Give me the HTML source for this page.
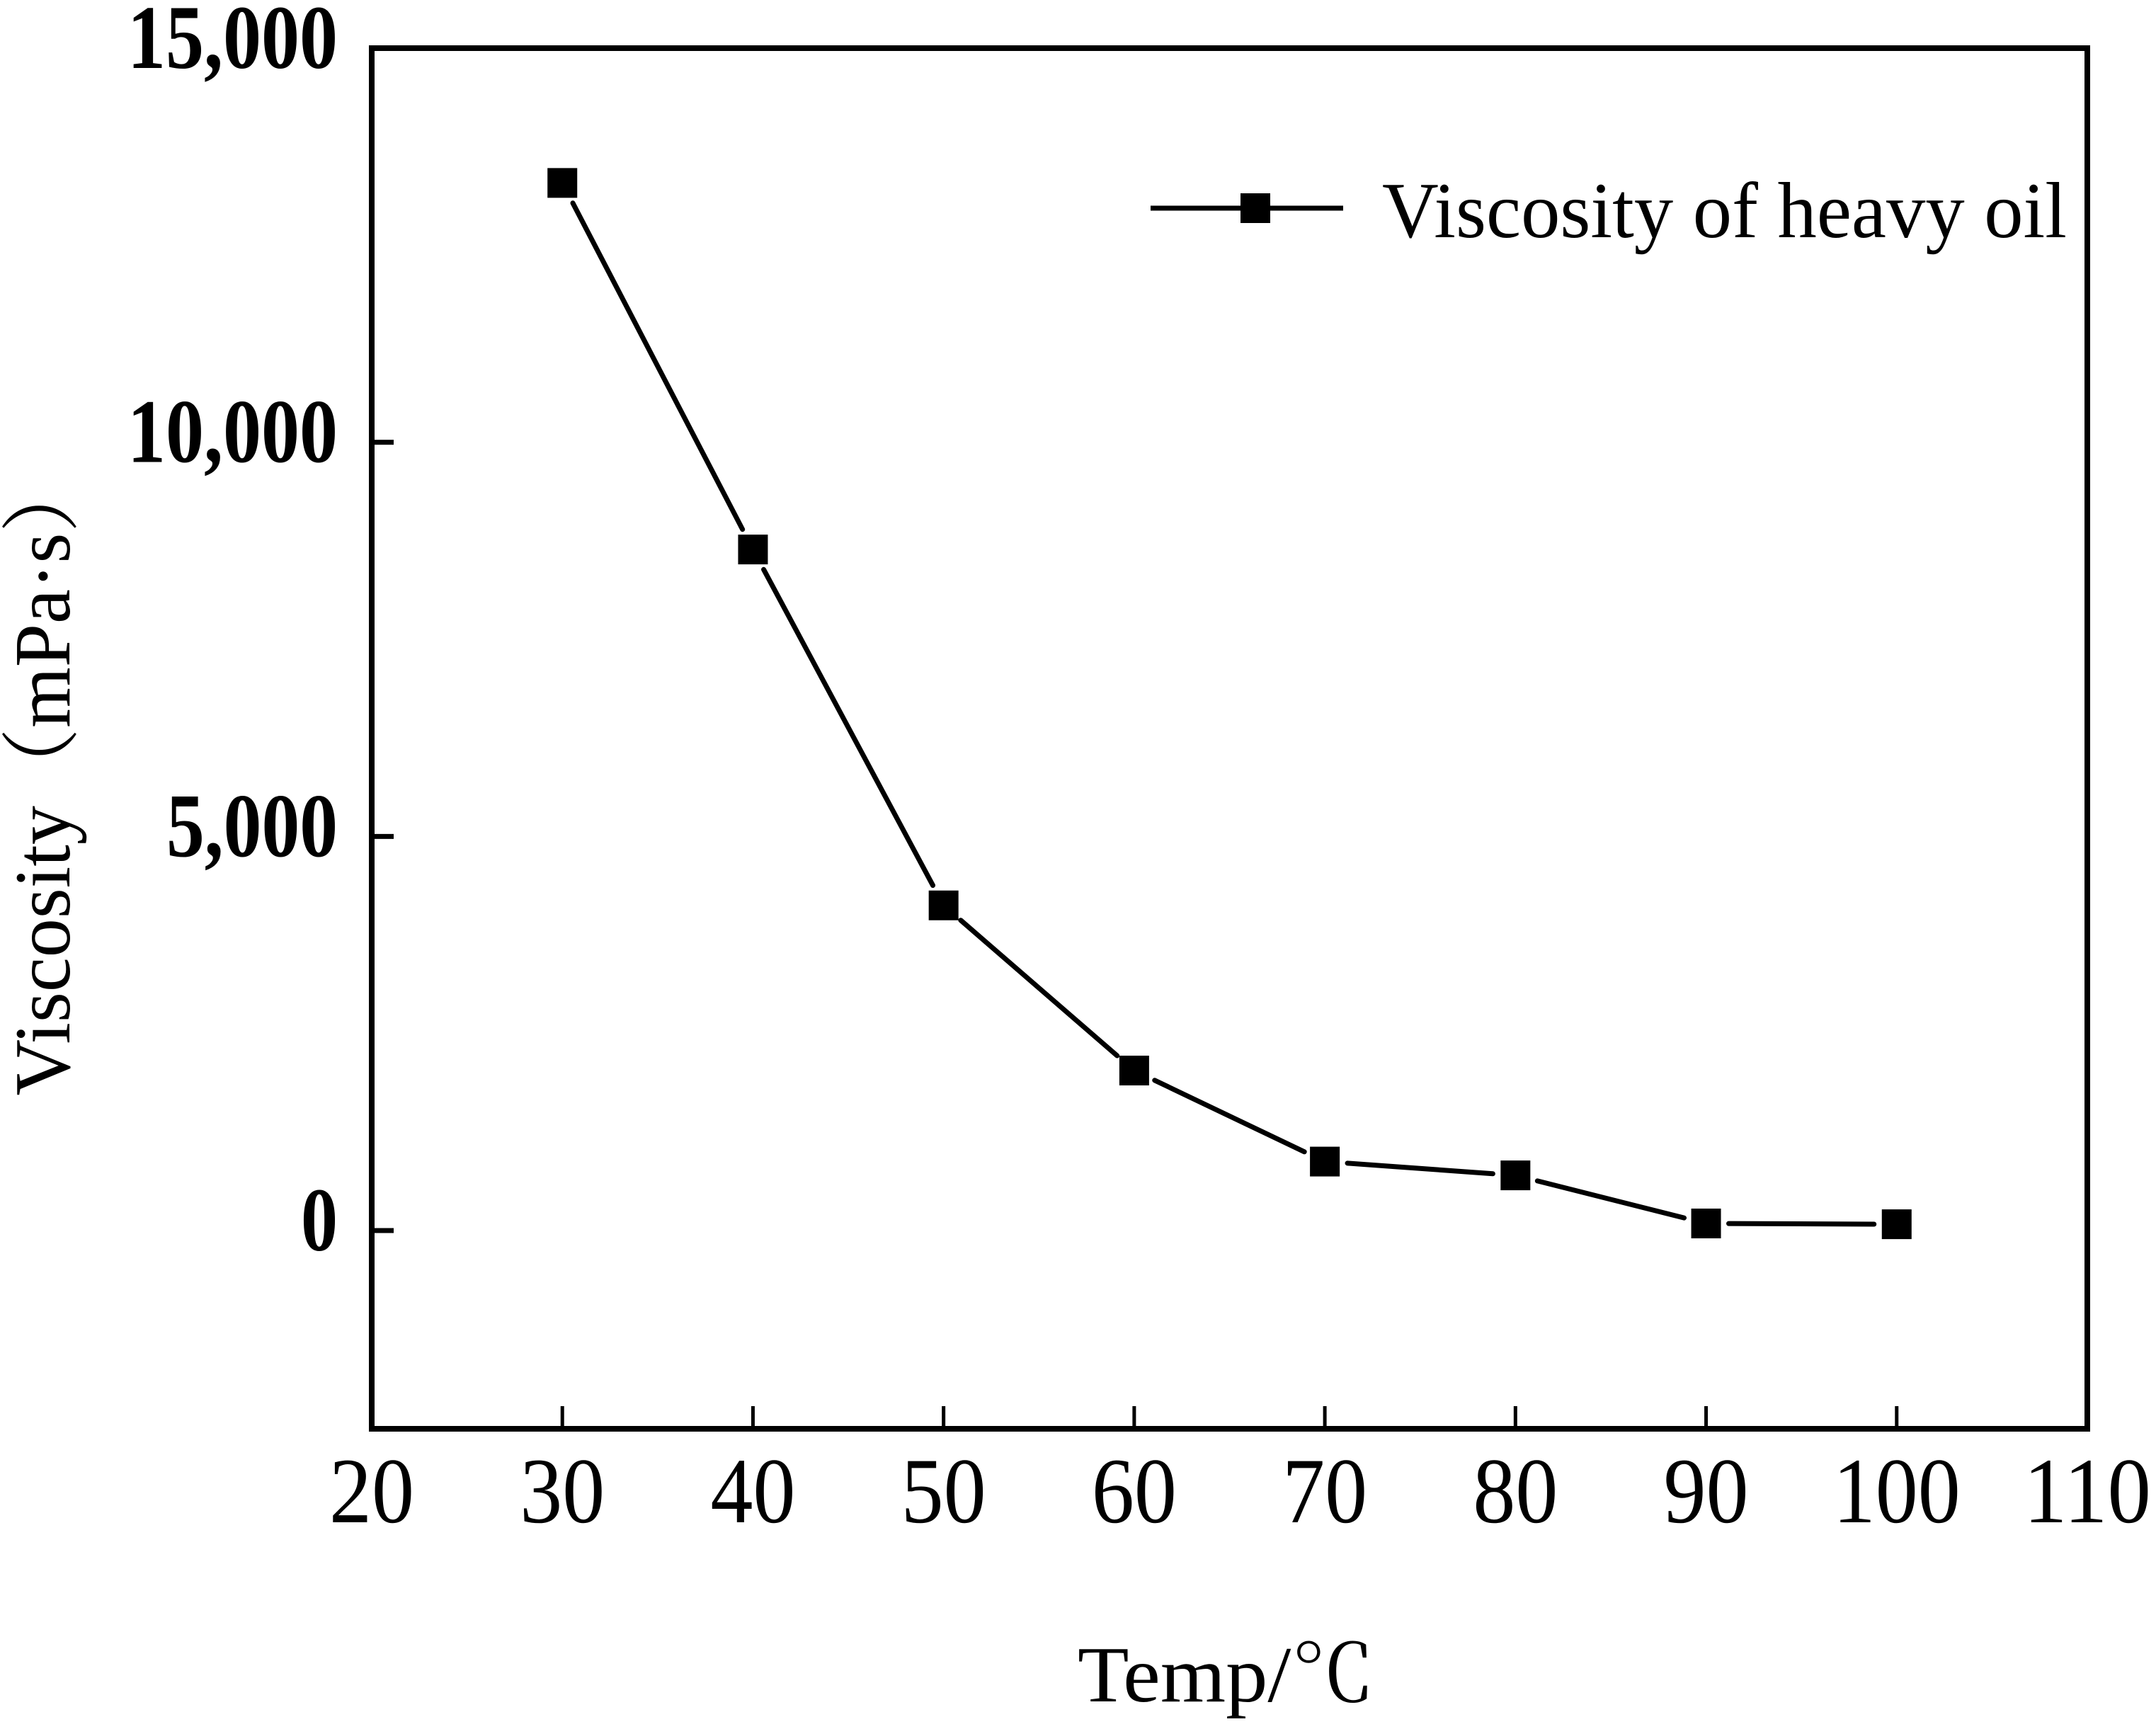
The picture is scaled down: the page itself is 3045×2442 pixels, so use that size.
<!DOCTYPE html>
<html><head><meta charset="utf-8"><style>
html,body{margin:0;padding:0;background:#fff;}
svg{display:block;}
text{font-family:"Liberation Serif","Noto Serif CJK SC",serif;fill:#000;}
</style></head><body>
<svg id="chart" width="3045" height="2442" viewBox="0 0 3045 2442" xmlns="http://www.w3.org/2000/svg">
<rect x="525" y="68" width="2423" height="1950" fill="none" stroke="#000" stroke-width="8"/>
<g id="xticks"></g><g id="yticks"></g><g id="series"></g>
<g>
<line x1="1625" y1="294" x2="1752" y2="294" stroke="#000" stroke-width="7"/>
<line x1="1794" y1="294" x2="1897" y2="294" stroke="#000" stroke-width="7"/>
<rect x="1752" y="273" width="42" height="42" fill="#000"/>
<text x="1952" y="335" font-size="112" textLength="967" lengthAdjust="spacingAndGlyphs">Viscosity of heavy oil</text>
</g>
<text transform="translate(98,1095) rotate(-90)" text-anchor="middle" font-size="112" textLength="905" lengthAdjust="spacingAndGlyphs">Viscosity（mPa·s）</text>
<text x="1732" y="2403" text-anchor="middle" font-size="112" textLength="420" lengthAdjust="spacingAndGlyphs">Temp/℃</text>
</svg>
<script>
const temps=[30,40,50,60,70,80,90,100];
const viscosity=[13290,8640,4125,2030,875,700,90,80];
const xTickLabels=[20,30,40,50,60,70,80,90,100,110];
const yTickValues=[0,5000,10000,15000];
const yTickLabels=["0","5,000","10,000","15,000"];
const NS="http://www.w3.org/2000/svg";
const X=v=>525+(v-20)*(2948-525)/90;
const Y=v=>1738-v*(1738-68)/15000;
function mk(t,a,p){const e=document.createElementNS(NS,t);for(const k in a)e.setAttribute(k,a[k]);p.appendChild(e);return e;}
const xg=document.getElementById('xticks'),yg=document.getElementById('yticks'),sg=document.getElementById('series');
xTickLabels.forEach(v=>{
 if(v>20&&v<110){const l=mk('line',{x1:X(v),x2:X(v),y1:2018,y2:1986,stroke:'#000','stroke-width':5},xg);
 
 }
 const s=String(v);
 const t=mk('text',{x:X(v),y:2150,'text-anchor':'middle','font-size':132,textLength:s.length*60,lengthAdjust:'spacingAndGlyphs'},xg);
 t.textContent=s;
 
 
});
yTickValues.forEach((v,i)=>{
 const l=mk('line',{x1:525,x2:556,y1:Y(v),y2:Y(v),stroke:'#000','stroke-width':7},yg);
 
 
 const s=yTickLabels[i];
 const w=s.length===1?52:(s.length-1)*55+22;
 const t=mk('text',{x:477,y:Y(v)+28,'text-anchor':'end','font-size':128,'font-weight':'bold',textLength:w,lengthAdjust:'spacingAndGlyphs'},yg);
 t.textContent=s;
 
 
});
const gap=32;
for(let i=0;i<temps.length-1;i++){
 const x1=X(temps[i]),y1=Y(viscosity[i]),x2=X(temps[i+1]),y2=Y(viscosity[i+1]);
 const dx=x2-x1,dy=y2-y1,d=Math.hypot(dx,dy),ux=dx/d,uy=dy/d;
 const l=mk('line',{x1:x1+ux*gap,y1:y1+uy*gap,x2:x2-ux*gap,y2:y2-uy*gap,stroke:'#000','stroke-width':7,'stroke-linecap':'round'},sg);
 
 
}
temps.forEach((t,i)=>{
 const r=mk('rect',{x:X(t)-21,y:Y(viscosity[i])-21,width:42,height:42,fill:'#000'},sg);
 
 
});
</script>
</body></html>
